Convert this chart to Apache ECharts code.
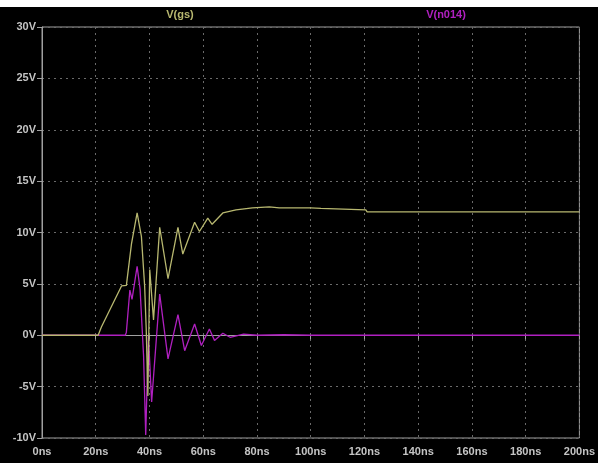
<!DOCTYPE html>
<html>
<head>
<meta charset="utf-8">
<script src="https://cdn.jsdelivr.net/npm/echarts@6/dist/echarts.min.js"></script>
<style>
  html, body { margin: 0; padding: 0; background: #fff; }
  #main { width: 598px; height: 463px; }
</style>
</head>
<body>
<div id="main"></div>
<script>
// V(gs) trace (time in ns, volts)
var vgsTime = [0, 20, 20.9, 22.1, 29.6, 31.4, 33.3, 35.4, 37, 38.2, 38.8, 39.4, 40.1, 41.5, 43.8, 46.9, 50.6, 52.4, 56.8, 58.6, 61.7, 63.3, 67.3, 72.2, 78.3, 84.6, 88.3, 100, 103.8, 104.2, 120.5, 121, 200];
var vgsVolt = [0, 0, 0, 0.8, 4.8, 4.85, 8.9, 11.9, 9.6, 4.8, 0.5, -5.9, 6.4, 1.5, 10.5, 5.5, 10.5, 7.9, 11, 10.1, 11.4, 10.8, 11.9, 12.2, 12.4, 12.5, 12.4, 12.4, 12.35, 12.2, 12.2, 12.0, 12.0];

// V(n014) trace
var vnTime = [0, 31, 31.4, 32.7, 33.5, 35.4, 36.5, 37.8, 38.6, 39.6, 40.8, 43.8, 46.9, 50.6, 53.1, 56.8, 59.3, 62.3, 64.2, 67.3, 70, 75, 80, 90, 100, 120, 150, 200];
var vnVolt = [0, 0, 0.3, 4.4, 3.5, 6.7, 4.5, -2, -9.7, 0, -6.5, 4.0, -2.3, 2.0, -1.5, 1.1, -1.0, 0.6, -0.5, 0.2, -0.2, 0.1, 0, 0.05, 0, 0, 0, 0];

var seriesNames = ['V(gs)', 'V(n014)'];

function pairs(t, v) {
    var out = [];
    for (var i = 0; i < t.length; i++) out.push([t[i], v[i]]);
    return out;
}

var myChart = echarts.init(document.getElementById('main'));
var labelStyle = { color: '#c4c4c4', fontSize: 11, fontWeight: 'bold', fontFamily: 'Liberation Sans' };

var option = {
    backgroundColor: '#000',
    animation: false,
    grid: { left: 42, right: 17, top: 27, bottom: 25, show: true, borderColor: '#a0a0a0', borderWidth: 1 },
    graphic: [
        { type: 'rect', left: 0, top: 0, shape: { width: 598, height: 7 }, style: { fill: '#fff' } },
        { type: 'text', x: 180, y: 9, style: { text: seriesNames[0], fill: '#b8b870', font: 'bold 11px Liberation Sans', textAlign: 'center' } },
        { type: 'text', x: 446, y: 9, style: { text: seriesNames[1], fill: '#b020c0', font: 'bold 11px Liberation Sans', textAlign: 'center' } }
    ],
    xAxis: {
        type: 'value', min: 0, max: 200, interval: 20,
        axisLine: { lineStyle: { color: '#a0a0a0' } },
        axisTick: { show: true, length: 4, inside: false, lineStyle: { color: '#a0a0a0' } },
        axisLabel: Object.assign({ margin: 8, formatter: '{value}ns' }, labelStyle),
        splitLine: { show: true, lineStyle: { color: '#6a6a6a', type: [2, 4] } }
    },
    yAxis: {
        type: 'value', min: -10, max: 30, interval: 5,
        axisLine: { show: true, lineStyle: { color: '#a0a0a0' } },
        axisTick: { show: true, length: 5, lineStyle: { color: '#a0a0a0' } },
        axisLabel: Object.assign({ margin: 6, formatter: '{value}V' }, labelStyle),
        splitLine: { show: true, lineStyle: { color: '#6a6a6a', type: [2, 4] } }
    },
    series: [
        {
            name: seriesNames[1], type: 'line', showSymbol: false,
            data: pairs(vnTime, vnVolt),
            lineStyle: { color: '#b020c0', width: 1.3 }
        },
        {
            name: seriesNames[0], type: 'line', showSymbol: false,
            data: pairs(vgsTime, vgsVolt),
            lineStyle: { color: '#b8b870', width: 1.3 }
        }
    ]
};
myChart.setOption(option);
</script>
</body>
</html>
